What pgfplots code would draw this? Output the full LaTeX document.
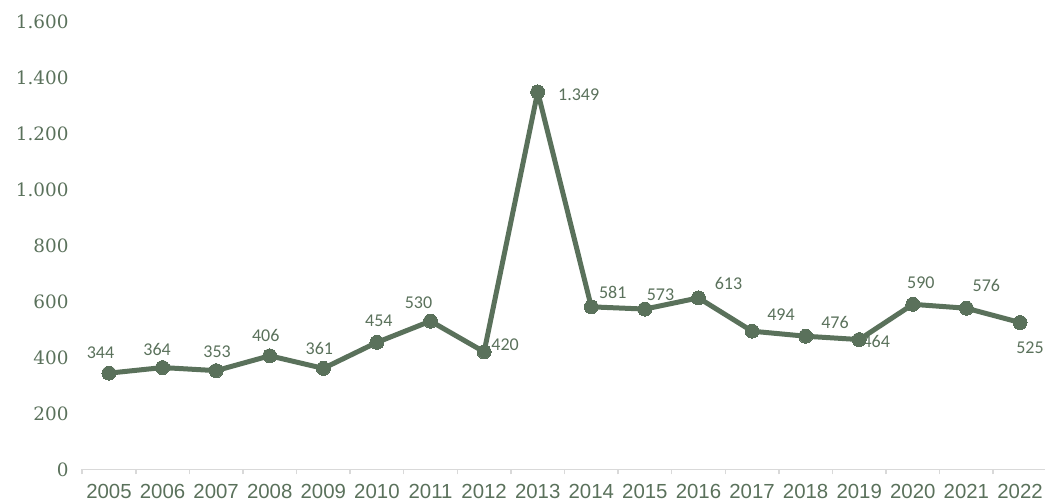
\documentclass[border=0pt]{standalone}
\usepackage{fontspec}
\setmainfont{Liberation Sans}
\newfontfamily\serifnum{DejaVu Serif}
\newfontfamily\lbl{Carlito}
\usepackage{pgfplots}
\usepackage{pgfplotstable}
\pgfplotsset{compat=1.18}
\definecolor{lc}{RGB}{90,113,91}
\definecolor{ax}{RGB}{217,217,217}

\pgfplotstableread{
x y lab dx dy
2005 344 344 -4.25 10.25
2006 364 364 -2.75 9
2007 353 353 0.5 9.5
2008 406 406 -2 10.3
2009 361 361 -2 9.75
2010 454 454 1 10.8
2011 530 530 -6 9.3
2012 420 420 10.5 3.5
2013 1349 1.349 20.5 -1.5
2014 581 581 10.75 7.2
2015 573 573 7.8 7.3
2016 613 613 15 7
2017 494 494 14.5 8.3
2018 476 476 14.7 7
2019 464 464 8.5 -1
2020 590 590 4 11
2021 576 576 10 11.5
2022 525 525 5 -12.5
}\data

\begin{document}
\begin{tikzpicture}
\begin{axis}[
  scale only axis, width=482.4pt, height=223.9pt,
  xmin=2004.5, xmax=2022.5, ymin=0, ymax=1600,
  clip=false,
  axis x line*=bottom, axis y line*=left,
  x axis line style={draw=ax, line width=0.75pt, -},
  y axis line style={draw=none, -},
  tick align=outside,
  xtick={2005,2006,...,2022},
  major x tick style={draw=none},
  minor xtick={2004.5,2005.5,...,2022.5},
  minor tick length=2.5pt,
  minor x tick style={draw=ax, line width=0.75pt},
  xticklabel style={font=\fontsize{10.2}{12}\selectfont, text=lc, yshift=-2pt, inner sep=1pt},
  ytick={0,200,...,1600},
  ytick style={draw=none},
  yticklabel style={font=\serifnum\fontsize{9.2}{11}\selectfont, text=lc, xshift=1pt},
  /pgf/number format/assume math mode=true,
  x tick label style={/pgf/number format/1000 sep={}},
  y tick label style={/pgf/number format/1000 sep={.}},
]
\addplot[lc, line width=2.5pt, line join=round, mark=*, mark size=3.5pt,
  mark options={fill=lc, draw=lc, line width=0pt}] table[x=x,y=y]{\data};
\addplot[draw=none, mark=none, nodes near coords, point meta=explicit symbolic,
  visualization depends on={\thisrow{dx} \as \dx},
  visualization depends on={\thisrow{dy} \as \dy},
  nodes near coords style={anchor=center, xshift=\dx pt, yshift=\dy pt,
    font=\lbl\fontsize{9}{11}\selectfont, text=lc, inner sep=0pt}]
  table[x=x,y=y,meta=lab]{\data};
\end{axis}
\pgfresetboundingbox
\path ([xshift=-41.1pt,yshift=-17.25pt]current axis.south west) rectangle ([xshift=-0.9pt,yshift=10.85pt]current axis.north east);
\end{tikzpicture}
\end{document}
